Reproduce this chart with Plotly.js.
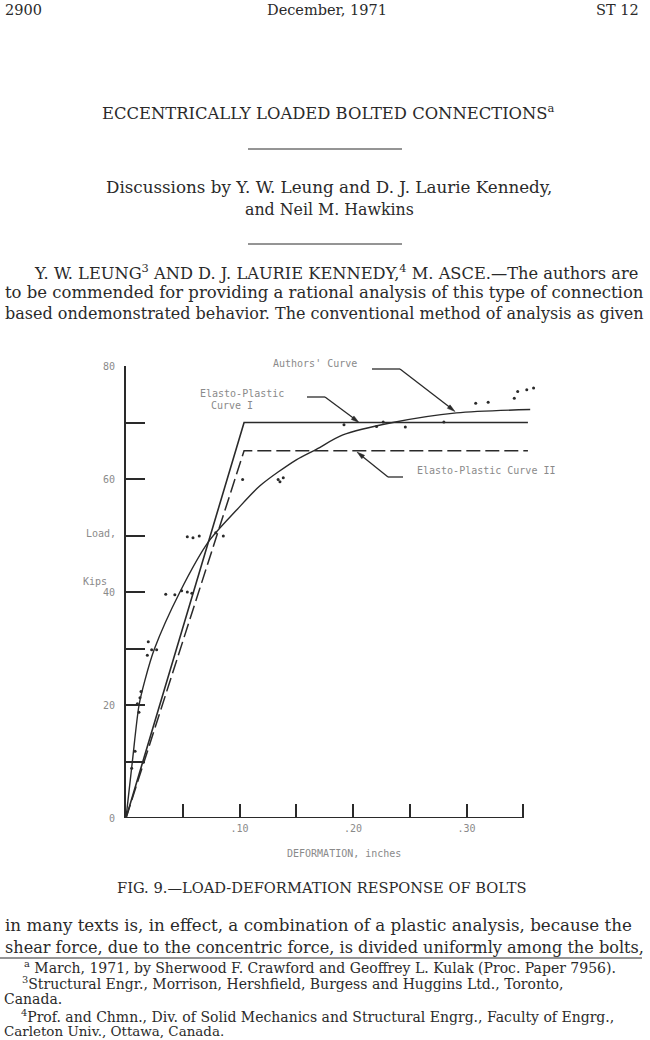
<!DOCTYPE html>
<html>
<head>
<meta charset="utf-8">
<script src="https://cdn.plot.ly/plotly-3.0.1.min.js"></script>
<style>html,body{margin:0;padding:0;background:#fff;}#chart{width:650px;height:1040px;}</style>
</head>
<body>
<div id="chart"></div>
<script>
// ---------- data ----------
const authorsDeformation = [0, 0.0056, 0.0115, 0.0167, 0.025, 0.0475, 0.0727, 0.0974, 0.118, 0.150, 0.168, 0.191, 0.235, 0.291, 0.356];
const authorsLoad        = [0, 10, 20, 24.4, 29.9, 40, 48.9, 54.5, 58.8, 63.4, 65.3, 67.8, 70.0, 71.7, 72.3];

const ep1Deformation = [0, 0.104, 0.354];
const ep1Load        = [0, 70, 70];
const ep2Deformation = [0, 0.104, 0.354];
const ep2Load        = [0, 65, 65];

const testDeformation = [0.005, 0.008, 0.0132, 0.0123, 0.010, 0.0114, 0.0196, 0.0226, 0.0188, 0.027,
  0.035, 0.043, 0.049, 0.054, 0.058, 0.054, 0.059, 0.0645, 0.079, 0.0857,
  0.1027, 0.134, 0.1356, 0.1385, 0.192, 0.2207, 0.2265, 0.246, 0.280,
  0.308, 0.319, 0.342, 0.345, 0.353, 0.359];
const testLoad = [8.8, 11.8, 22.4, 21.3, 20.2, 18.7, 31.2, 29.8, 28.8, 29.8,
  39.6, 39.5, 40.2, 40.0, 39.8, 49.8, 49.6, 49.9, 50.5, 49.9,
  59.9, 59.9, 59.5, 60.2, 69.6, 69.3, 70.1, 69.2, 70.1,
  73.4, 73.6, 74.3, 75.5, 75.8, 76.1];

const xMajorTicks = [0.10, 0.20, 0.30];
const xMajorLabels = ['.10', '.20', '.30'];
const xMinorTicks = [0.05, 0.15, 0.25, 0.35];
const yMajorTicks = [0, 20, 40, 60, 80];
const yMajorLabels = ['0', '20', '40', '60', '80'];
const yMinorTicks = [10, 30, 50, 70];
const xAxisExtent = [0, 0.35];

// ---------- page geometry ----------
const W = 650, H = 1040, ML = 126, MR = 113, MT = 366, MB = 222;
const PW = W - ML - MR, PH = H - MT - MB;
const px = X => (X - ML) / PW;
const py = Y => (H - MB - Y) / PH;

const SERIF = 'DejaVu Serif';
const MONO = 'DejaVu Sans Mono';
const INK = '#2a2a2a';
const GREY = '#8a8a8a';

const ctx = document.createElement('canvas').getContext('2d');
function fitSize(text, target, base) {
  const plain = text.replace(/<sup>(.*?)<\/sup>/g, '$1');
  ctx.font = base + 'px "' + SERIF + '"';
  const w = ctx.measureText(plain).width;
  return base * target / w;
}

function txt(text, X, Y, size, anchor, fam, color) {
  return {text: text, x: px(X), y: py(Y), xref: 'paper', yref: 'paper',
    xanchor: anchor || 'left', yanchor: 'middle', showarrow: false,
    font: {family: fam || SERIF, size: size, color: color || INK}};
}
// a block of lines, each fitted to its width, sizes kept close to the block average
function block(specs, base, maxSize) {
  const sizes = specs.map(s => fitSize(s[0], s[2] - s[1], base));
  const fitted = sizes.filter((v, i) => !specs[i][5]);
  const avg = Math.min(maxSize || 99, fitted.reduce((a, b) => a + b, 0) / fitted.length);
  const hi = maxSize ? 1.0 : 1.02;
  return specs.map((s, i) => {
    const size = Math.max(avg * 0.96, Math.min(avg * hi, sizes[i]));
    const a = s[4] || 'left';
    const X = a === 'left' ? s[1] : (a === 'right' ? s[2] : (s[1] + s[2]) / 2);
    return txt(s[0], X, s[3], size, a);
  });
}
function seg(x0, y0, x1, y1, w) {
  return {type: 'line', xref: 'paper', yref: 'paper', x0: px(x0), y0: py(y0), x1: px(x1), y1: py(y1),
    line: {color: INK, width: w || 1.3}};
}
function head(tipX, tipY, fromX, fromY) {
  const dx = tipX - fromX, dy = tipY - fromY, L = Math.hypot(dx, dy);
  const ux = dx / L, uy = dy / L, len = 8, hw = 2.2;
  const bx = tipX - ux * len, by = tipY - uy * len;
  const p = (X, Y) => px(X) + ',' + py(Y);
  return {type: 'path', xref: 'paper', yref: 'paper',
    path: 'M' + p(tipX, tipY) + ' L' + p(bx - uy * hw, by + ux * hw) + ' L' + p(bx + uy * hw, by - ux * hw) + ' Z',
    fillcolor: INK, line: {color: INK, width: 0.5}};
}

const LEFT = 3, RIGHT = 642;
const annotations = [].concat(
  [txt('2900', 3, 10, 14.5), txt('December, 1971', 327, 10, 14.5, 'center'), txt('ST 12', 641, 10, 14.5, 'right')],
  block([
    ['ECCENTRICALLY LOADED BOLTED CONNECTIONS<sup>a</sup>', 100, 556, 112, 'center']
  ], 14),
  block([
    ['Discussions by Y. W. Leung and D. J. Laurie Kennedy,', 102, 556, 187, 'center'],
    ['and Neil M. Hawkins', 245, 414, 210, 'center']
  ], 14),
  block([
    ['Y. W. LEUNG<sup>3</sup> AND D. J. LAURIE KENNEDY,<sup>4</sup> M. ASCE.\u2014The authors are', 32, RIGHT, 272],
    ['to be commended for providing a rational analysis of this type of connection', LEFT, RIGHT, 292],
    ['based ondemonstrated behavior. The conventional method of analysis as given', LEFT, RIGHT, 313],
    ['in many texts is, in effect, a combination of a plastic analysis, because the', LEFT, RIGHT, 925],
    ['shear force, due to the concentric force, is divided uniformly among the bolts,', LEFT, RIGHT, 947]
  ], 14),
  block([
    ['FIG. 9.\u2014LOAD-DEFORMATION RESPONSE OF BOLTS', 117, 527, 887, 'center']
  ], 12),
  block([
    ['<sup>a</sup> March, 1971, by Sherwood F. Crawford and Geoffrey L. Kulak (Proc. Paper 7956).', 22, RIGHT, 967],
    ['<sup>3</sup>Structural Engr., Morrison, Hershfield, Burgess and Huggins Ltd., Toronto,', 20, RIGHT, 983],
    ['Canada.', 2, 64, 999, 'left', true],
    ['<sup>4</sup>Prof. and Chmn., Div. of Solid Mechanics and Structural Engrg., Faculty of Engrg.,', 19, RIGHT, 1015.5],
    ['Carleton Univ., Ottawa, Canada.', 2, 211, 1031.5, 'left', true]
  ], 12, 14),
  [
    // chart labels
    txt("Authors' Curve", 271, 363, 10, 'left', MONO, GREY),
    txt('Elasto-Plastic', 242, 393, 10, 'center', MONO, GREY),
    txt('Curve I', 232, 405, 10, 'center', MONO, GREY),
    txt('Elasto-Plastic Curve II', 415, 470, 10, 'left', MONO, GREY),
    txt('Load,', 84, 533, 10, 'left', MONO, GREY),
    txt('Kips', 81, 581, 10, 'left', MONO, GREY),
    txt('DEFORMATION, inches', 344, 853, 10, 'center', MONO, GREY)
  ]
);

const shapes = [
  seg(248, 149, 402, 149, 1),
  seg(248, 244, 402, 244, 1),
  seg(0, 958, 642, 958, 1),
  // leaders
  seg(372, 369, 400, 369), seg(400, 369, 452, 409), head(455, 411.5, 400, 369),
  seg(307, 397, 325, 397), seg(325, 397, 356, 420), head(359, 422.5, 325, 397),
  seg(388, 477, 403, 477), seg(388, 477, 360, 454.5), head(357, 452, 388, 477),
  {type: 'line', xref: 'x', yref: 'y', x0: xAxisExtent[0], x1: xAxisExtent[1], y0: 0, y1: 0,
   line: {color: INK, width: 2}}
];

const traces = [
  {x: authorsDeformation, y: authorsLoad, mode: 'lines', line: {color: INK, width: 1.4, shape: 'spline', smoothing: 0.8},
   name: "Authors' Curve", hoverinfo: 'skip'},
  {x: ep1Deformation, y: ep1Load, mode: 'lines', line: {color: INK, width: 1.6}, name: 'Elasto-Plastic Curve I'},
  {x: ep2Deformation, y: ep2Load, mode: 'lines', line: {color: INK, width: 1.5, dash: '14px,5px'}, name: 'Elasto-Plastic Curve II'},
  {x: testDeformation, y: testLoad, mode: 'markers', marker: {color: INK, size: 3}, cliponaxis: false, name: 'Tests'}
];

const layout = {
  width: W, height: H, showlegend: false,
  paper_bgcolor: '#fff', plot_bgcolor: 'rgba(0,0,0,0)',
  margin: {l: ML, r: MR, t: MT, b: MB, pad: 0},
  xaxis: {range: [0, 0.362], showgrid: false, zeroline: false, showline: false,
    ticks: 'inside', ticklen: 14, tickwidth: 2, tickcolor: INK,
    tickmode: 'array', tickvals: xMajorTicks, ticktext: xMajorLabels, ticklabelstandoff: 3,
    minor: {tickmode: 'array', tickvals: xMinorTicks, ticks: 'inside', ticklen: 14, tickwidth: 2, tickcolor: INK, showgrid: false},
    tickfont: {family: MONO, size: 10, color: GREY}},
  yaxis: {range: [0, 80], showgrid: false, zeroline: false, showline: true, linecolor: INK, linewidth: 2,
    ticks: 'inside', ticklen: 19, tickwidth: 2, tickcolor: INK,
    tickmode: 'array', tickvals: yMajorTicks, ticktext: yMajorLabels, ticklabelstandoff: 7,
    minor: {tickmode: 'array', tickvals: yMinorTicks, ticks: 'inside', ticklen: 19, tickwidth: 2, tickcolor: INK, showgrid: false},
    tickfont: {family: MONO, size: 10, color: GREY}},
  annotations: annotations,
  shapes: shapes
};

Plotly.newPlot('chart', traces, layout, {displayModeBar: false, staticPlot: true});
</script>
</body>
</html>
